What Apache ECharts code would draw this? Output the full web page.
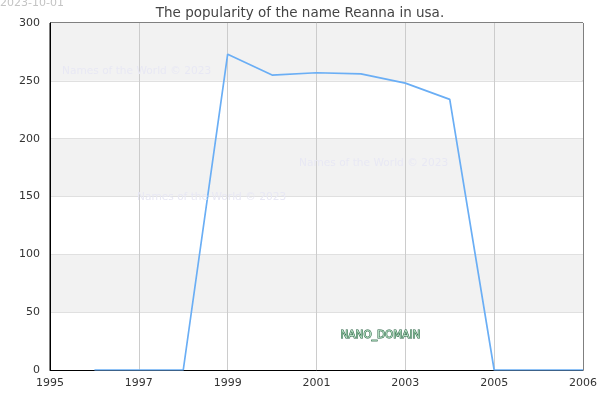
<!DOCTYPE html>
<html>
<head>
<meta charset="utf-8">
<script src="https://cdn.jsdelivr.net/npm/echarts@6/dist/echarts.min.js"></script>
<style>html,body{margin:0;padding:0;background:#fff}#c{width:600px;height:400px}</style>
</head>
<body>
<div id="c"></div>
<script>
const years = [1996, 1997, 1998, 1999, 2000, 2001, 2002, 2003, 2004, 2005, 2006, 2007];
const counts = [0, 0, 0, 273, 255, 257, 256, 248, 234, 0, 0, 0];
const xTickLabels = ['1995', '1997', '1999', '2001', '2003', '2005', '2006'];
const yTicks = [0, 50, 100, 150, 200, 250, 300];
const titleText = 'The popularity of the name Reanna in usa.';
const dateText = '2023-10-01';
const watermarkText = 'Names of the World © 2023';
const badgeText = 'NANO_DOMAIN';

const chart = echarts.init(document.getElementById('c'));
const font = 'DejaVu Sans';
chart.setOption({
  animation: false,
  backgroundColor: '#fff',
  title: {
    text: titleText, left: 'center', top: 1,
    textStyle: { fontFamily: font, fontSize: 13.5, fontWeight: 'normal', color: '#444' }
  },
  grid: { left: 50, right: 14, top: 23, bottom: 30, show: true, borderColor: '#000', borderWidth: 1, backgroundColor: 'transparent' },
  xAxis: {
    type: 'value', min: 1995, max: 2007, interval: 2,
    axisLine: { lineStyle: { color: '#000', width: 1 } },
    axisTick: { show: false },
    axisLabel: { fontFamily: font, fontSize: 11, color: '#333', margin: 8,
      showMaxLabel: true, showMinLabel: true,
      formatter: (v, i) => xTickLabels[i] !== undefined ? xTickLabels[i] : String(v) },
    splitLine: { show: true, showMinLine: false, showMaxLine: false, lineStyle: { color: '#cccccc', width: 1 } }
  },
  yAxis: {
    type: 'value', min: yTicks[0], max: yTicks[yTicks.length - 1], interval: 50,
    axisLine: { show: true, lineStyle: { color: '#000', width: 1 } },
    axisTick: { show: false },
    axisLabel: { fontFamily: font, fontSize: 11, color: '#333', margin: 10 },
    splitLine: { show: true, showMinLine: false, showMaxLine: false, lineStyle: { color: '#e0e0e0', width: 1 } },
    splitArea: { show: true, areaStyle: { color: ['#ffffff', '#f2f2f2'] } }
  },
  series: [{
    type: 'line',
    data: years.map((y, i) => [y, counts[i]]),
    showSymbol: false,
    lineStyle: { color: '#6aaef5', width: 1.7 },
    itemStyle: { color: '#6aaef5' },
    z: 3
  }],
  graphic: [
    { type: 'text', left: 0, top: -2, z: 10,
      style: { text: dateText, fontFamily: font, fontSize: 11, fill: '#c4c4c4' } },
    { type: 'text', left: 62, top: 66, z: 10,
      style: { text: watermarkText, fontFamily: font, fontSize: 10.6, fill: '#e8e8f4' } },
    { type: 'text', left: 299, top: 158, z: 10,
      style: { text: watermarkText, fontFamily: font, fontSize: 10.6, fill: '#e8e8f4' } },
    { type: 'text', left: 137, top: 192, z: 10,
      style: { text: watermarkText, fontFamily: font, fontSize: 10.6, fill: '#e8e8f4' } },
    { type: 'text', left: 340, top: 329, z: 10,
      style: { text: badgeText, fontFamily: font, fontSize: 10.5, fontWeight: 'normal',
        fill: '#b5dfc2', stroke: '#1e5a3a', lineWidth: 1 } }
  ]
});
</script>
</body>
</html>
